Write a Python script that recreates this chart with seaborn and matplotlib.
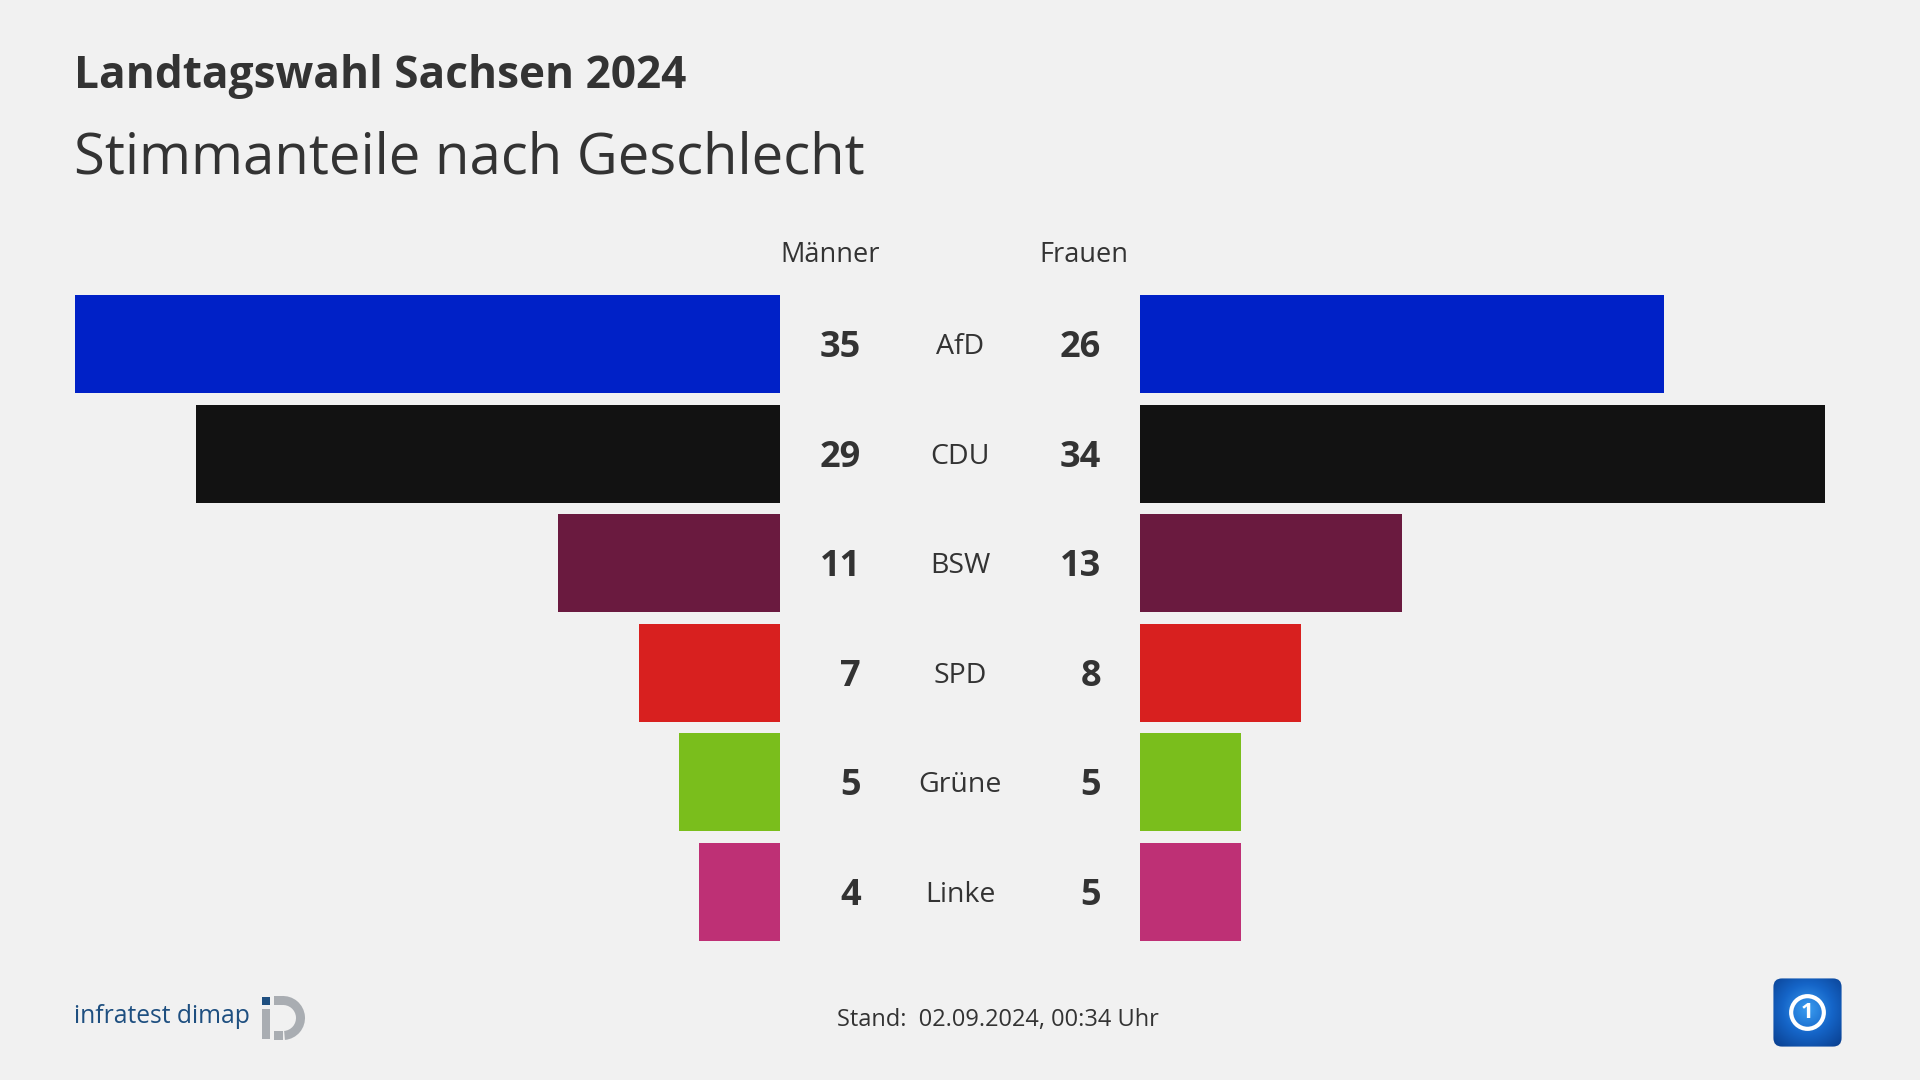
import numpy as np
import pandas as pd
import matplotlib
matplotlib.use("Agg")
import matplotlib.pyplot as plt
import matplotlib.transforms as mtransforms
from matplotlib.patches import FancyBboxPatch, Rectangle, Wedge, Circle
import seaborn as sns

# ---- data ----
parties = ["AfD", "CDU", "BSW", "SPD", "Grüne", "Linke"]
maenner = [35, 29, 11, 7, 5, 4]
frauen = [26, 34, 13, 8, 5, 5]
party_colors = ["#0021c7", "#121212", "#6a1a3f", "#d8201f", "#7abe1c", "#be3075"]
title = "Landtagswahl Sachsen 2024"
subtitle = "Stimmanteile nach Geschlecht"
col_left = "Männer"
col_right = "Frauen"
footer = "Stand:  02.09.2024, 00:34 Uhr"

df = pd.DataFrame({"Partei": parties, "Männer": maenner, "Frauen": frauen})

BG = "#f1f1f1"
TXT = "#333333"
FONT = ["Open Sans", "DejaVu Sans"]

sns.set_theme(style="white")
plt.rcParams["font.family"] = FONT

W, H = 1920, 1080
fig = plt.figure(figsize=(19.2, 10.8), dpi=100, facecolor=BG)


def fx(px):
    return px / W


def fy(py):
    return 1 - py / H


SCALE = 20.14     # px per percentage point
LIM = 38
TOP, BOT = 289.2, 946.8
axL = fig.add_axes([fx(780 - LIM * SCALE), fy(BOT), LIM * SCALE / W, (BOT - TOP) / H])
axR = fig.add_axes([fx(1140), fy(BOT), LIM * SCALE / W, (BOT - TOP) / H])

for ax, col in ((axL, "Männer"), (axR, "Frauen")):
    sns.barplot(data=df, x=col, y="Partei", hue="Partei", palette=party_colors,
                saturation=1, width=0.894, orient="h", legend=False,
                linewidth=0, ax=ax)
    ax.set_ylim(len(parties) - 0.5, -0.5)
    ax.set_facecolor("none")
    ax.axis("off")
axL.set_xlim(LIM, 0)
axR.set_xlim(0, LIM)

# row labels
base = mtransforms.blended_transform_factory(fig.transFigure, axR.transData)
trans_num = mtransforms.offset_copy(base, fig=fig, x=0, y=-13, units="dots")
trans_lab = mtransforms.offset_copy(base, fig=fig, x=0, y=-10, units="dots")
for i, p in enumerate(parties):
    fig.text(fx(861), i, f"{maenner[i]}", transform=trans_num, ha="right", va="baseline",
             fontsize=26, fontweight="bold", color=TXT)
    fig.text(fx(960), i, p, transform=trans_lab, ha="center", va="baseline",
             fontsize=20.5, color=TXT)
    fig.text(fx(1101), i, f"{frauen[i]}", transform=trans_num, ha="right", va="baseline",
             fontsize=26, fontweight="bold", color=TXT)

# column headers
fig.text(fx(830), fy(262), col_left, ha="center", va="baseline", fontsize=19.5, color=TXT)
fig.text(fx(1084), fy(262), col_right, ha="center", va="baseline", fontsize=19.5, color=TXT)

# titles
fig.text(fx(74), fy(88), title, ha="left", va="baseline", fontsize=31.8,
         fontweight="bold", color=TXT)
fig.text(fx(74), fy(174), subtitle, ha="left", va="baseline", fontsize=40.5, color=TXT)

# footer
fig.text(fx(837), fy(1026), footer, ha="left", va="baseline", fontsize=17, color=TXT)

# infratest dimap logo
fig.text(fx(74), fy(1023), "infratest dimap", ha="left", va="baseline", fontsize=17.7,
         color="#1e4f80")
lax = fig.add_axes([fx(255), fy(1045), 56 / W, 56 / H])
lax.set_xlim(0, 56)
lax.set_ylim(0, 56)
lax.axis("off")
lax.add_patch(Rectangle((7, 40), 8, 8, color="#1e4f80", lw=0))
lax.add_patch(Rectangle((7, 6), 8, 30, color="#a9adb2", lw=0))
lax.add_patch(Wedge((28, 27), 22, -85, 95, width=9, color="#a9adb2", lw=0))
lax.add_patch(Rectangle((19, 40), 9, 9, color="#a9adb2", lw=0))
lax.add_patch(Rectangle((19, 5), 9, 9, color="#a9adb2", lw=0))

# ARD logo
aax = fig.add_axes([fx(1772), fy(1048), 71 / W, 71 / H])
aax.set_xlim(0, 1)
aax.set_ylim(0, 1)
aax.axis("off")
yy, xx = np.mgrid[0:1:200j, 0:1:200j]
r = np.sqrt((xx - 0.5) ** 2 + (yy - 0.55) ** 2)
grad = np.clip(r / 0.7, 0, 1)
box = FancyBboxPatch((0.02, 0.02), 0.96, 0.96, boxstyle="round,pad=0,rounding_size=0.12",
                     transform=aax.transAxes, facecolor="none", edgecolor="none")
aax.add_patch(box)
cmap = matplotlib.colors.LinearSegmentedColormap.from_list("ard", ["#3a9cf0", "#1565c8", "#0a3f8f"])
im = aax.imshow(grad, cmap=cmap, extent=(0, 1, 0, 1), origin="lower", aspect="auto")
im.set_clip_path(box)
aax.add_patch(Circle((0.5, 0.5), 0.23, facecolor="none", edgecolor="white", lw=3))
aax.text(0.5, 0.5, "1", ha="center", va="center", fontsize=16, fontweight="bold",
         color="white")

fig.savefig("out.png", dpi=100, facecolor=BG)
